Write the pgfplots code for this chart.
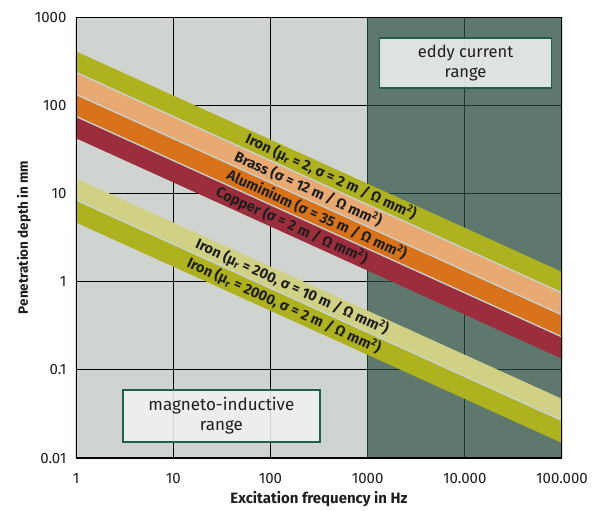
\documentclass[border=0pt]{standalone}
\usepackage{fontspec}
\setmainfont{Fira Sans}
\usepackage{pgfplots}
\pgfplotsset{compat=1.18}
\definecolor{bglight}{RGB}{208,212,209}
\definecolor{bgdark}{RGB}{95,120,110}
\definecolor{gridd}{RGB}{25,55,48}
\definecolor{ironc}{RGB}{174,178,30}
\definecolor{brassc}{RGB}{232,170,114}
\definecolor{aluc}{RGB}{216,115,27}
\definecolor{copc}{RGB}{155,45,60}
\definecolor{ironl}{RGB}{208,209,132}
\definecolor{boxedge}{RGB}{30,95,80}
\definecolor{boxfill}{RGB}{240,242,240}
\definecolor{gapc}{RGB}{200,212,212}
\definecolor{txt}{RGB}{30,30,30}
\begin{document}
\begin{tikzpicture}
\begin{axis}[
  xmode=log, ymode=log,
  width=486pt, height=441pt, scale only axis,
  xmin=1, xmax=100000, ymin=0.01, ymax=1000,
  xtick={1,10,100,1000,10000,100000},
  xticklabels={1,10,100,1000,10.000,100.000},
  ytick={0.01,0.1,1,10,100,1000},
  yticklabels={0.01,0.1,1,10,100,1000},
  minor tick num=0, minor xtick={}, minor ytick={},
  tick style={draw=none},
  axis line style={draw=none},
  ticklabel style={font=\fontsize{15}{16}\selectfont, text=txt},
  xticklabel style={yshift=-12pt},
  yticklabel style={xshift=-6pt},
  xlabel={Excitation frequency in Hz},
  ylabel={Penetration depth in mm},
  xlabel style={font=\fontsize{15}{16}\selectfont\bfseries, text=txt, yshift=-1pt},
  ylabel style={font=\fontsize{13.5}{14}\selectfont\bfseries, text=txt, yshift=-3pt},
  clip=true,
]
% backgrounds
\fill[bglight] (axis cs:1,0.01) rectangle (axis cs:1000,1000);
\fill[bgdark] (axis cs:1000,0.01) rectangle (axis cs:100000,1000);
% grid light region
\draw[black, line width=1.2pt] (axis cs:10,0.01) -- (axis cs:10,1000);
\draw[black, line width=1.2pt] (axis cs:100,0.01) -- (axis cs:100,1000);
\draw[black, line width=1.2pt] (axis cs:1,0.1) -- (axis cs:1000,0.1);
\draw[black, line width=1.2pt] (axis cs:1,1) -- (axis cs:1000,1);
\draw[black, line width=1.2pt] (axis cs:1,10) -- (axis cs:1000,10);
\draw[black, line width=1.2pt] (axis cs:1,100) -- (axis cs:1000,100);
\draw[gridd, line width=1pt] (axis cs:1000,0.01) -- (axis cs:1000,1000);
% grid dark region
\draw[gridd, line width=1pt] (axis cs:10000,0.01) -- (axis cs:10000,1000);
\draw[gridd, line width=1pt] (axis cs:1000,0.1) -- (axis cs:100000,0.1);
\draw[gridd, line width=1pt] (axis cs:1000,1) -- (axis cs:100000,1);
\draw[gridd, line width=1pt] (axis cs:1000,10) -- (axis cs:100000,10);
\draw[gridd, line width=1pt] (axis cs:1000,100) -- (axis cs:100000,100);
% bands
\addplot[fill=ironc, draw=none] coordinates {(1,407.4) (100000,1.288) (100000,0.7457) (1,235.8)} --cycle;
\addplot[fill=brassc, draw=none] coordinates {(1,235.8) (100000,0.7457) (100000,0.4193) (1,132.6)} --cycle;
\addplot[fill=aluc, draw=none] coordinates {(1,132.6) (100000,0.4193) (100000,0.2359) (1,74.6)} --cycle;
\addplot[fill=copc, draw=none] coordinates {(1,74.6) (100000,0.2359) (100000,0.1334) (1,42.2)} --cycle;
\addplot[fill=ironl, draw=none] coordinates {(1,14.8) (100000,0.0468) (100000,0.0266) (1,8.41)} --cycle;
\addplot[fill=ironc, draw=none] coordinates {(1,8.41) (100000,0.0266) (100000,0.0148) (1,4.68)} --cycle;
% separators
\addplot[gapc, line width=1.3pt] coordinates {(1,235.8) (100000,0.7457)};
\addplot[gapc, line width=1.3pt] coordinates {(1,132.6) (100000,0.4193)};
\addplot[gapc, line width=1.3pt] coordinates {(1,74.6) (100000,0.2359)};
\addplot[gapc, line width=1.3pt] coordinates {(1,8.41) (100000,0.0266)};
% band labels
\tikzset{bl/.style={sloped, font=\fontsize{14.5}{15}\selectfont\bfseries, text=txt, inner sep=0pt}}
\path (axis cs:1,314.5) -- (axis cs:100000,0.994) node[bl, pos=0.525] {Iron (μ\textsubscript{r} = 2, σ = 2 m / Ω mm\textsuperscript{2})};
\path (axis cs:1,176.8) -- (axis cs:100000,0.559) node[bl, pos=0.478] {Brass (σ = 12 m / Ω mm\textsuperscript{2})};
\path (axis cs:1,99.5) -- (axis cs:100000,0.315) node[bl, pos=0.496] {Aluminium (σ = 35 m / Ω mm\textsuperscript{2})};
\path (axis cs:1,55.3) -- (axis cs:100000,0.175) node[bl, pos=0.444] {Copper (σ = 2 m / Ω mm\textsuperscript{2})};
\path (axis cs:1,11.2) -- (axis cs:100000,0.0355) node[bl, pos=0.445] {Iron (μ\textsubscript{r} = 200, σ = 10 m / Ω mm\textsuperscript{2})};
\path (axis cs:1,6.24) -- (axis cs:100000,0.0197) node[bl, pos=0.428] {Iron (μ\textsubscript{r} = 2000, σ = 2 m / Ω mm\textsuperscript{2})};
% boxes
\node[draw=boxedge, line width=1.3pt, fill=boxfill, fill opacity=0.88, text opacity=1, minimum width=172pt, minimum height=50pt, align=center, font=\fontsize{16.5}{20}\selectfont, text=txt] at (axis cs:10190,300) {eddy current\\range};
\node[draw=boxedge, line width=1.3pt, fill=boxfill, fill opacity=0.88, text opacity=1, minimum width=197pt, minimum height=52pt, align=center, font=\fontsize{17}{20}\selectfont, text=txt] at (axis cs:31.3,0.0299) {magneto-inductive\\range};
% frame
\draw[black, line width=1.6pt] (rel axis cs:0,0) rectangle (rel axis cs:1,1);
\end{axis}
\path (current axis.south west) ++(-76pt,-49pt) coordinate (a);
\path (current axis.north east) ++(33pt,17pt) coordinate (b);
\path (a) rectangle (b);
\end{tikzpicture}
\end{document}
